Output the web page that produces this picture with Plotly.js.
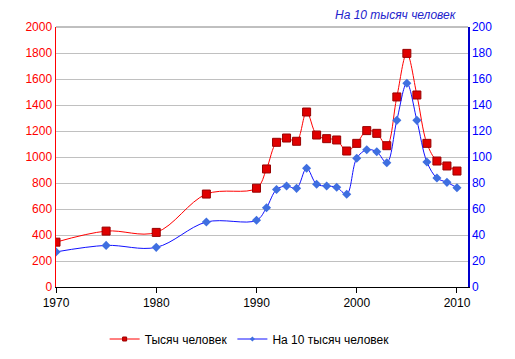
<!DOCTYPE html>
<html>
<head>
<meta charset="utf-8">
<script src="https://cdn.plot.ly/plotly-3.0.1.min.js"></script>
<style>html,body{margin:0;padding:0;background:#fff;}#chart{width:515px;height:359px;}</style>
</head>
<body>
<div id="chart"></div>
<script>
const years = [1970,1975,1980,1985,1990,1991,1992,1993,1994,1995,1996,1997,1998,1999,2000,2001,2002,2003,2004,2005,2006,2007,2008,2009,2010];
const thousands = [345,430,420,715,760,908,1113,1146,1121,1346,1169,1141,1131,1046,1105,1203,1182,1087,1462,1797,1477,1105,969,931,892];
const per10k = [27,32,30.5,50,51.3,61,75,77.7,75.9,91.3,79,77.7,76.7,71.3,99,105.6,104,95.6,128.2,156.7,128.2,96.2,83.8,80.5,76.4];
const name1 = 'Тысяч человек';
const name2 = 'На 10 тысяч человек';
const xTicks = [1970,1980,1990,2000,2010];
const yLeftTicks = [0,200,400,600,800,1000,1200,1400,1600,1800,2000];
const yRightTicks = [0,20,40,60,80,100,120,140,160,180,200];

const font = 'Liberation Sans, Arial, sans-serif';
const redLine = {color: '#ff0000', width: 1, shape: 'spline', smoothing: 1};
const blueLine = {color: '#1010ff', width: 1, shape: 'spline', smoothing: 1};
const traces = [
  {x: years, y: thousands, name: name1, type: 'scatter', mode: 'lines+markers',
   line: redLine, showlegend: false,
   marker: {symbol: 'square', size: 8, color: '#e00000', line: {color: '#990000', width: 1}},
   yaxis: 'y'},
  {x: years, y: per10k, name: name2, type: 'scatter', mode: 'lines+markers',
   line: blueLine, showlegend: false,
   marker: {symbol: 'diamond', size: 7, color: '#3f6fe0', line: {width: 0}},
   yaxis: 'y2'},
  {x: [null], y: [null], name: name1, type: 'scatter', mode: 'lines+markers',
   line: {color: '#ff0000', width: 1},
   marker: {symbol: 'square', size: 4, color: '#e00000', line: {color: '#990000', width: 1}}},
  {x: [null], y: [null], name: name2, type: 'scatter', mode: 'lines+markers',
   line: {color: '#1010ff', width: 1},
   marker: {symbol: 'diamond', size: 4, color: '#3f6fe0', line: {width: 0}}, yaxis: 'y2'}
];
const layout = {
  width: 515, height: 359,
  margin: {l: 56, r: 47, t: 27, b: 72, autoexpand: false},
  paper_bgcolor: '#fff', plot_bgcolor: '#fff',
  font: {family: font, size: 12, color: '#000'},
  showlegend: true,
  legend: {orientation: 'h', x: 0.47, xanchor: 'center', yref: 'container', y: 20/359, yanchor: 'middle',
           font: {family: font, size: 12, color: '#000'}, itemwidth: 30, bgcolor: 'rgba(0,0,0,0)'},
  xaxis: {range: [1970, 2011.1], tickvals: xTicks, ticktext: xTicks.map(String),
          showgrid: false, zeroline: false, showline: true, linecolor: '#000', linewidth: 1,
          ticks: 'outside', ticklen: 5, tickcolor: '#000', tickfont: {size: 12, color: '#000'}},
  yaxis: {range: [0, 2000], tickvals: yLeftTicks, ticktext: yLeftTicks.map(String),
          showgrid: true, gridcolor: '#c0c0c0', gridwidth: 1, zeroline: false,
          showline: true, linecolor: '#ff0000', linewidth: 1.5, ticks: '',
          tickfont: {size: 12, color: '#ff0000'}},
  yaxis2: {range: [0, 200], tickvals: yRightTicks, ticktext: yRightTicks.map(String),
           overlaying: 'y', side: 'right', showgrid: false, zeroline: false,
           showline: true, linecolor: '#0000cc', linewidth: 1.5, ticks: '',
           tickfont: {size: 12, color: '#0000ff'}},
  shapes: [{type: 'line', xref: 'paper', yref: 'paper', x0: 0, x1: 1, y0: 1, y1: 1,
            line: {color: '#808080', width: 1}}],
  annotations: [{text: '<i>' + name2 + '</i>', xref: 'paper', yref: 'paper',
                 x: 0.977, y: 1.046, xanchor: 'right', yanchor: 'middle', showarrow: false,
                 font: {family: font, size: 12, color: '#2222cc'}}]
};
Plotly.newPlot('chart', traces, layout, {displayModeBar: false, staticPlot: true});
</script>
</body>
</html>
